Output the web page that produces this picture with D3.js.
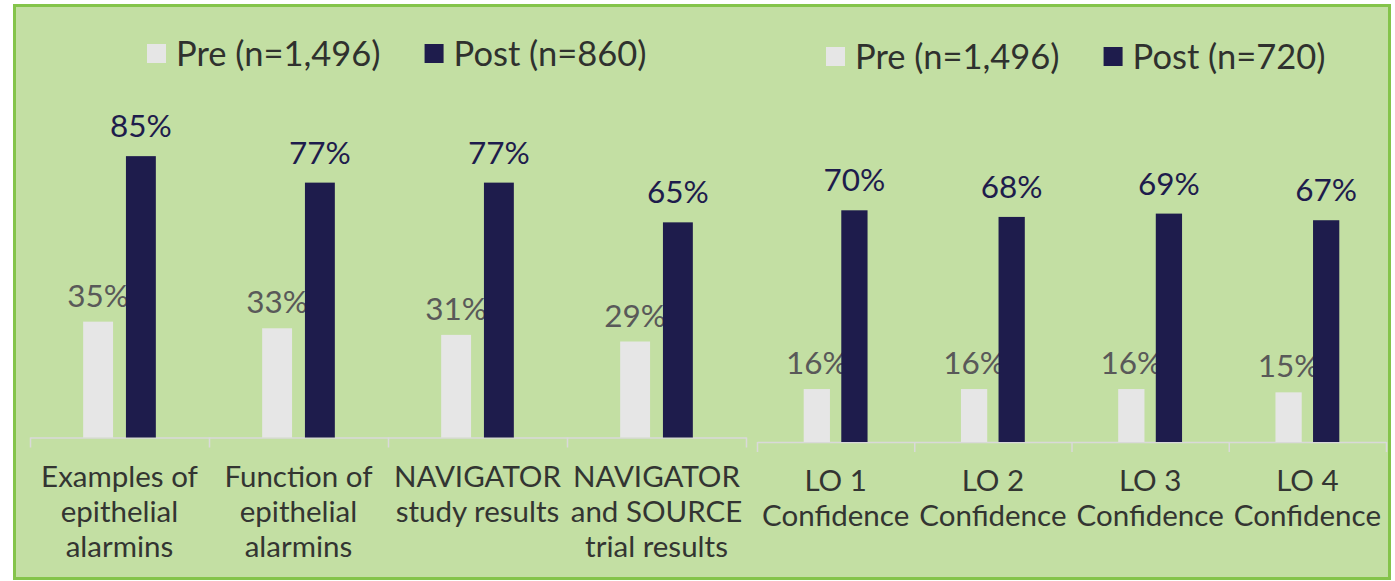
<!DOCTYPE html>
<meta charset="UTF-8">
<style>
body { margin: 0; background: #fff; }
text { font-family: Lato, "Open Sans", sans-serif; }
.axis path, .axis line { stroke: #d9d9d9; stroke-width: 1.5px; }
.cat { font-size: 29.5px; fill: #333532; }
.lbl { font-size: 31.5px; }
.leg { font-size: 34.5px; fill: #2f312e; }
</style>
<body>
<script src="https://cdn.jsdelivr.net/npm/d3@7/dist/d3.min.js"></script>
<script>

// left panel data
var leftCategories = [
  ["Examples of", "epithelial", "alarmins"],
  ["Function of", "epithelial", "alarmins"],
  ["NAVIGATOR", "study results"],
  ["NAVIGATOR", "and SOURCE", "trial results"]
];
var leftPre = [35, 33, 31, 29];
var leftPost = [85, 77, 77, 65];
var leftLegend = ["Pre (n=1,496)", "Post (n=860)"];

// right panel data
var rightCategories = [
  ["LO 1", "Confidence"],
  ["LO 2", "Confidence"],
  ["LO 3", "Confidence"],
  ["LO 4", "Confidence"]
];
var rightPre = [16, 16, 16, 15];
var rightPost = [70, 68, 69, 67];
var rightLegend = ["Pre (n=1,496)", "Post (n=720)"];

var colors = { pre: "#e6e6e6", post: "#1e1c4c" };
var labelColors = { pre: "#595959", post: "#1e1c4c" };

var W = 1395, H = 581;

var svg = d3.select("body").append("svg")
    .attr("width", W)
    .attr("height", H);

// green panel with border
svg.append("rect")
    .attr("x", 14.5).attr("y", 5.5)
    .attr("width", 1375).attr("height", 573)
    .attr("fill", "#c3dfa3")
    .attr("stroke", "#84c44a")
    .attr("stroke-width", 3);

function drawPanel(cats, pre, post, legend, x0, x1, baseline, legendX, legendY) {
  var g = svg.append("g");
  var n = cats.length;

  var x = d3.scaleBand().domain(d3.range(n)).range([x0, x1]).padding(0);
  var bw = x.bandwidth();
  var barW = bw * 0.167, gap = bw * 0.072;
  var sub = d3.scaleBand().domain(["pre", "post"])
      .range([bw / 2 - barW - gap / 2, bw / 2 + barW + gap / 2])
      .paddingInner(gap / (barW + gap));

  var y = d3.scaleLinear().domain([0, 100]).range([baseline, baseline - 331]);

  // axis with ticks at category boundaries
  var edge = d3.scaleLinear().domain([0, n]).range([x0, x1]);
  g.append("g")
      .attr("class", "axis")
      .attr("transform", "translate(0," + baseline + ")")
      .call(d3.axisBottom(edge).tickValues(d3.range(n + 1)).tickSize(10).tickSizeOuter(0).tickFormat(""));

  var rows = d3.range(n).map(function(i) {
    return { i: i, pre: pre[i], post: post[i] };
  });

  ["pre", "post"].forEach(function(k) {
    g.selectAll(".bar-" + k)
      .data(rows)
      .enter().append("rect")
        .attr("class", "bar-" + k)
        .attr("x", function(d) { return x(d.i) + sub(k); })
        .attr("y", function(d) { return y(d[k]); })
        .attr("width", sub.bandwidth())
        .attr("height", function(d) { return baseline - y(d[k]); })
        .attr("fill", colors[k]);

    g.selectAll(".lbl-" + k)
      .data(rows)
      .enter().append("text")
        .attr("class", "lbl")
        .attr("x", function(d) { return x(d.i) + sub(k) + sub.bandwidth() / 2; })
        .attr("y", function(d) { return y(d[k]) - (k === "pre" ? 15 : 19); })
        .attr("text-anchor", "middle")
        .attr("fill", labelColors[k])
        .text(function(d) { return d[k] + "%"; });
  });

  // category labels
  var cat = g.selectAll(".cat")
    .data(cats)
    .enter().append("text")
      .attr("class", "cat")
      .attr("text-anchor", "middle")
      .attr("x", function(d, i) { return x(i) + bw / 2; })
      .attr("y", baseline + 49);
  cat.selectAll("tspan")
    .data(function(d) { return d; })
    .enter().append("tspan")
      .attr("x", function() { return this.parentNode.getAttribute("x"); })
      .attr("dy", function(d, j) { return j === 0 ? 0 : 35; })
      .text(function(d) { return d; });

  // legend
  var lg = g.append("g").attr("transform", "translate(" + legendX + "," + legendY + ")");
  var cx = 0;
  ["pre", "post"].forEach(function(k, j) {
    lg.append("rect")
      .attr("x", cx).attr("y", -22)
      .attr("width", 19).attr("height", 19)
      .attr("fill", colors[k]);
    var t = lg.append("text")
      .attr("class", "leg")
      .attr("x", cx + 29).attr("y", 0)
      .text(legend[j]);
    cx += 29 + t.node().getComputedTextLength() + 44;
  });
}

drawPanel(leftCategories, leftPre, leftPost, leftLegend, 30, 746, 437.5, 147, 66);
drawPanel(rightCategories, rightPre, rightPost, rightLegend, 757, 1386, 442, 826, 69);

</script>
</body>
